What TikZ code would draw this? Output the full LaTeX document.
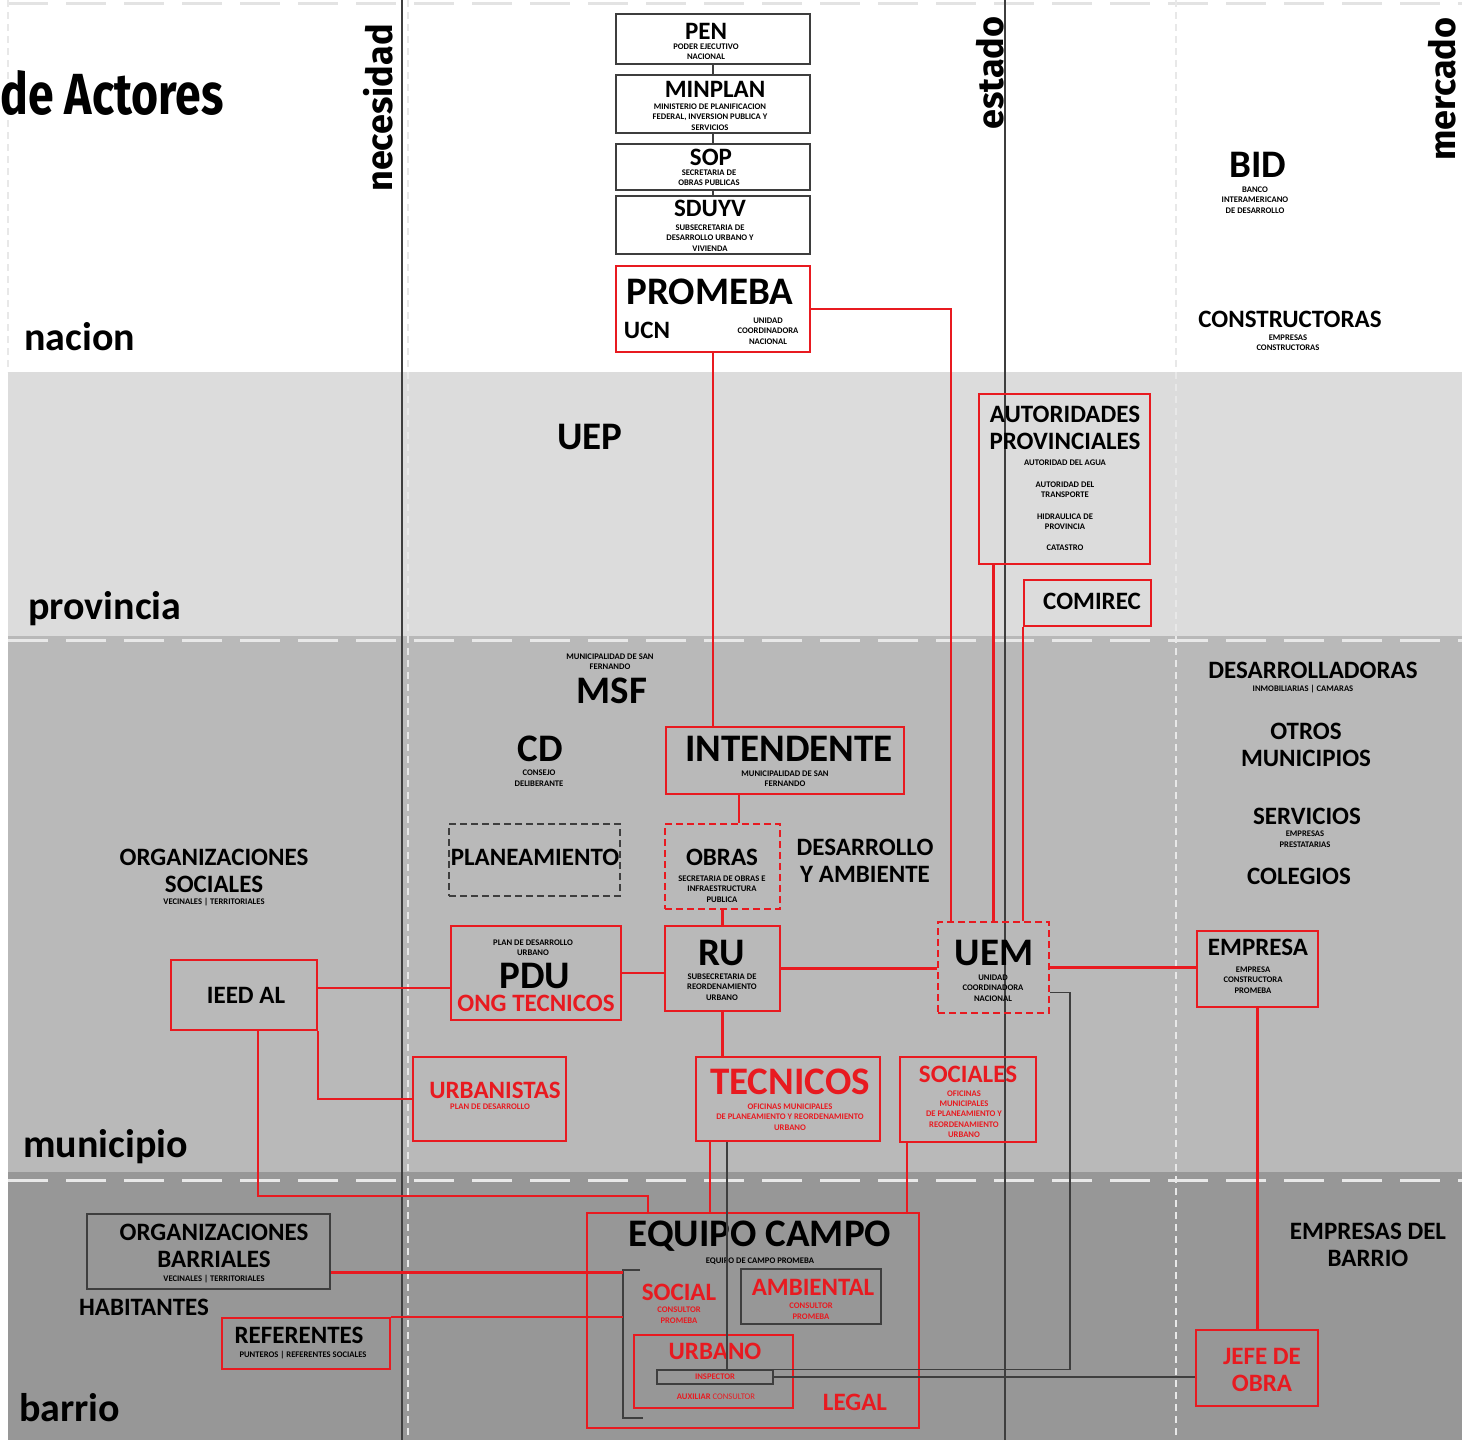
\documentclass[tikz,border=0pt]{standalone}
\usepackage{graphicx}
\usepackage{fontspec}
\setmainfont{Carlito}
\newfontfamily\axisfont{Fira Sans}
\usetikzlibrary{calc}

\definecolor{promred}{RGB}{232,26,32}
\definecolor{linegray}{RGB}{62,62,62}
\definecolor{provgray}{RGB}{220,220,220}
\definecolor{munigray}{RGB}{185,185,185}
\definecolor{barrgray}{RGB}{151,151,151}
\definecolor{dashgray}{RGB}{232,232,232}

\tikzset{
  redbox/.style={draw=promred, line width=2.5pt, inner sep=0pt},
  graybox/.style={draw=linegray, line width=1.8pt, inner sep=0pt},
  redline/.style={draw=promred, line width=2.2pt},
  grayline/.style={draw=linegray, line width=1.6pt},
  bigtxt/.style={font=\fontsize{39}{41}\selectfont\bfseries, inner sep=0pt},
  midtxt/.style={font=\fontsize{25}{27}\selectfont\bfseries, inner sep=0pt, align=center},
  tinytxt/.style={font=\fontsize{8.6}{10.4}\selectfont\bfseries, inner sep=0pt, align=center},
  bandlbl/.style={font=\fontsize{40}{40}\selectfont\bfseries, anchor=base west, inner sep=0pt},
  axislbl/.style={font=\axisfont\bfseries\fontsize{36}{36}\selectfont, rotate=90, inner sep=0pt},
}

\begin{document}
\begin{tikzpicture}[x=1pt,y=-1pt]
    \useasboundingbox (0,0) rectangle (1462,1440);

    % Bands
    \fill[white] (0,0) rectangle (1462,1440);
    \fill[provgray] (8,372) rectangle (1462,636);
    \fill[munigray] (8,636) rectangle (1462,1172);
    \fill[barrgray] (8,1172) rectangle (1462,1440);
    \draw[gray!22, line width=3pt, dash pattern=on 40pt off 18pt] (8,3) -- (1462,3);
    \draw[dashgray, line width=3pt, dash pattern=on 40pt off 18pt] (8,640) -- (1462,640);
    \draw[dashgray, line width=3pt, dash pattern=on 40pt off 18pt] (8,1180) -- (1462,1180);
    \draw[gray!18, line width=1.2pt, dash pattern=on 7pt off 5pt] (8,0) -- (8,372);
    \draw[gray!18, line width=1.5pt, dash pattern=on 7pt off 5pt] (408,0) -- (408,1440);
    \draw[gray!18, line width=1.5pt, dash pattern=on 7pt off 5pt] (1176,0) -- (1176,1440);
    \draw[linegray, line width=2.2pt] (402,0) -- (402,1440);
    \draw[linegray, line width=2.2pt] (1005,0) -- (1005,1440);

    % Band and axis labels
    \node[anchor=base west, inner sep=0pt, font=\axisfont\bfseries\fontsize{58}{58}\selectfont] (title) at (0,114) {\scalebox{0.8}[1]{de Actores}};
    \node[axislbl] (necl) at (378,108) {necesidad};
    \node[axislbl] (estl) at (990,73) {estado};
    \node[axislbl] (merl) at (1442,89) {mercado};
    \node[bandlbl] (nacl) at (24,350) {nacion};
    \node[bandlbl] (provl) at (28,619) {provincia};
    \node[bandlbl] (munl) at (23,1157) {municipio};
    \node[bandlbl] (barl) at (19,1421) {barrio};

    % Boxes
    \node[graybox, minimum width=194, minimum height=50] (pen) at (713,39) {};
    \node[graybox, minimum width=194, minimum height=58] (minplan) at (713,104) {};
    \node[graybox, minimum width=194, minimum height=46] (sop) at (713,167) {};
    \node[graybox, minimum width=194, minimum height=58] (sduyv) at (713,225) {};
    \node[redbox, minimum width=194, minimum height=86] (promeba) at (713,309) {};
    \node[redbox, minimum width=171, minimum height=170] (autprov) at (1064.5,479) {};
    \node[redbox, minimum width=127, minimum height=46] (comirec) at (1087.5,603) {};
    \node[redbox, minimum width=238, minimum height=67] (intend) at (785,760.5) {};
    \node[graybox, dash pattern=on 7pt off 4pt, line width=1.4pt, minimum width=171, minimum height=72] (planea) at (534.5,860) {};
    \node[redbox, dash pattern=on 7pt off 4pt, minimum width=115, minimum height=85] (obras) at (722.5,866.5) {};
    \node[redbox, minimum width=170, minimum height=94] (pdu) at (536,973) {};
    \node[redbox, minimum width=115, minimum height=85] (ru) at (722.5,968.5) {};
    \node[redbox, dash pattern=on 7pt off 4pt, minimum width=111, minimum height=91] (uem) at (993.5,967.5) {};
    \node[redbox, minimum width=121, minimum height=76] (empresa) at (1257.5,969) {};
    \node[redbox, minimum width=146, minimum height=70] (ieed) at (244,995) {};
    \node[redbox, minimum width=153, minimum height=84] (urban) at (489.5,1099) {};
    \node[redbox, minimum width=184, minimum height=84] (tecn) at (788,1099) {};
    \node[redbox, minimum width=136, minimum height=85] (socs) at (968,1099.5) {};
    \node[redbox, minimum width=332, minimum height=215] (equipo) at (753,1320.5) {};
    \node[graybox, minimum width=243, minimum height=75] (orgbar) at (208.5,1251.5) {};
    \node[redbox, minimum width=168, minimum height=51] (refer) at (306,1343.5) {};
    \node[graybox, minimum width=140, minimum height=55] (ambient) at (811,1296.5) {};
    \node[redbox, minimum width=159, minimum height=73] (urbano) at (713.5,1371.5) {};
    \node[graybox, line width=1.4pt, minimum width=116, minimum height=14] (insp) at (715,1377) {};
    \node[redbox, minimum width=122, minimum height=76] (jefe) at (1257,1368) {};

    % Nacion texts
    \node[midtxt] (pent) at (706,31) {PEN};
    \node[tinytxt] (pens) at (706,52) {PODER EJECUTIVO\\NACIONAL};
    \node[midtxt] (minplant) at (715,89) {MINPLAN};
    \node[tinytxt] (minplans) at (710,117) {MINISTERIO DE PLANIFICACION\\FEDERAL, INVERSION PUBLICA Y\\SERVICIOS};
    \node[midtxt] (sopt) at (711,157) {SOP};
    \node[tinytxt] (sops) at (709,178) {SECRETARIA DE\\OBRAS PUBLICAS};
    \node[midtxt] (sduyvt) at (710,208) {SDUYV};
    \node[tinytxt] (sduyvs) at (710,238) {SUBSECRETARIA DE\\DESARROLLO URBANO Y\\VIVIENDA};
    \node[bigtxt] (promebat) at (710,292) {PROMEBA};
    \node[midtxt] (ucnt) at (647,330) {UCN};
    \node[tinytxt] (ucns) at (768,331) {UNIDAD\\COORDINADORA\\NACIONAL};
    \node[bigtxt] (bidt) at (1258,165) {BID};
    \node[tinytxt] (bids) at (1255,200) {BANCO\\INTERAMERICANO\\DE DESARROLLO};
    \node[midtxt] (constt) at (1290,319) {CONSTRUCTORAS};
    \node[tinytxt] (consts) at (1288,343) {EMPRESAS\\CONSTRUCTORAS};

    % Provincia texts
    \node[bigtxt] (uept) at (590,437) {UEP};
    \node[midtxt] (autprovt) at (1065,428) {AUTORIDADES\\PROVINCIALES};
    \node[tinytxt] (aut1) at (1065,463) {AUTORIDAD DEL AGUA};
    \node[tinytxt] (aut2) at (1065,490) {AUTORIDAD DEL\\TRANSPORTE};
    \node[tinytxt] (aut3) at (1065,522) {HIDRAULICA DE\\PROVINCIA};
    \node[tinytxt] (aut4) at (1065,548) {CATASTRO};
    \node[midtxt] (comirect) at (1092,601) {COMIREC};

    % Municipio texts
    \node[tinytxt] (msfs) at (610,662) {MUNICIPALIDAD DE SAN\\FERNANDO};
    \node[bigtxt] (msft) at (612,691) {MSF};
    \node[bigtxt] (cdt) at (540,749) {CD};
    \node[tinytxt] (cds) at (539,778) {CONSEJO\\DELIBERANTE};
    \node[bigtxt] (intendt) at (789,749) {INTENDENTE};
    \node[tinytxt] (intends) at (785,779) {MUNICIPALIDAD DE SAN\\FERNANDO};
    \node[midtxt] (planeat) at (535,857) {PLANEAMIENTO};
    \node[midtxt] (obrast) at (722,857) {OBRAS};
    \node[tinytxt] (obrass) at (722,889) {SECRETARIA DE OBRAS E\\INFRAESTRUCTURA\\PUBLICA};
    \node[midtxt] (desamb) at (865,861) {DESARROLLO\\Y AMBIENTE};
    \node[midtxt] (orgsoct) at (214,871) {ORGANIZACIONES\\SOCIALES};
    \node[tinytxt] (orgsocs) at (214,902) {VECINALES | TERRITORIALES};
    \node[tinytxt] (pdus) at (533,948) {PLAN DE DESARROLLO\\URBANO};
    \node[bigtxt] (pdut) at (535,976) {PDU};
    \node[midtxt, text=promred] (ongt) at (536,1003) {ONG TECNICOS};
    \node[bigtxt] (rut) at (722,953) {RU};
    \node[tinytxt] (rus) at (722,987) {SUBSECRETARIA DE\\REORDENAMIENTO\\URBANO};
    \node[bigtxt] (uemt) at (994,953) {UEM};
    \node[tinytxt] (uems) at (993,988) {UNIDAD\\COORDINADORA\\NACIONAL};
    \node[midtxt] (empresat) at (1258,947) {EMPRESA};
    \node[tinytxt] (empresas) at (1253,980) {EMPRESA\\CONSTRUCTORA\\PROMEBA};
    \node[midtxt] (ieedt) at (246,995) {IEED AL};
    \node[midtxt, text=promred] (urbant) at (495,1090) {URBANISTAS};
    \node[tinytxt, text=promred] (urbans) at (490,1107) {PLAN DE DESARROLLO};
    \node[bigtxt, text=promred] (tecnt) at (790,1082) {TECNICOS};
    \node[tinytxt, text=promred] (tecns) at (790,1117) {OFICINAS MUNICIPALES\\DE PLANEAMIENTO Y REORDENAMIENTO\\URBANO};
    \node[midtxt, text=promred] (socst) at (968,1074) {SOCIALES};
    \node[tinytxt, text=promred] (socss) at (964,1114) {OFICINAS\\MUNICIPALES\\DE PLANEAMIENTO Y\\REORDENAMIENTO\\URBANO};
    \node[midtxt] (desarrt) at (1313,670) {DESARROLLADORAS};
    \node[tinytxt] (desarrs) at (1303,689) {INMOBILIARIAS | CAMARAS};
    \node[midtxt] (otrost) at (1306,745) {OTROS\\MUNICIPIOS};
    \node[midtxt] (servt) at (1307,816) {SERVICIOS};
    \node[tinytxt] (servs) at (1305,839) {EMPRESAS\\PRESTATARIAS};
    \node[midtxt] (colegt) at (1299,876) {COLEGIOS};

    % Barrio texts
    \node[bigtxt] (equipot) at (760,1236) {EQUIPO CAMPO};
    \node[tinytxt] (equipos) at (760,1261) {EQUIPO DE CAMPO PROMEBA};
    \node[midtxt, text=promred] (socialt) at (679,1292) {SOCIAL};
    \node[tinytxt, text=promred] (socials) at (679,1315) {CONSULTOR\\PROMEBA};
    \node[midtxt, text=promred] (ambientt) at (813,1287) {AMBIENTAL};
    \node[tinytxt, text=promred] (ambients) at (811,1311) {CONSULTOR\\PROMEBA};
    \node[midtxt, text=promred] (urbanot) at (715,1351) {URBANO};
    \node[tinytxt, text=promred] (inspt) at (715,1377) {INSPECTOR};
    \node[tinytxt, text=promred] (auxt) at (716,1397) {AUXILIAR \mdseries CONSULTOR};
    \node[midtxt, text=promred] (legalt) at (855,1402) {LEGAL};
    \node[midtxt] (orgbart) at (214,1246) {ORGANIZACIONES\\BARRIALES};
    \node[tinytxt] (orgbars) at (214,1279) {VECINALES | TERRITORIALES};
    \node[midtxt] (habt) at (144,1307) {HABITANTES};
    \node[midtxt] (refert) at (299,1335) {REFERENTES};
    \node[tinytxt] (refers) at (303,1355) {PUNTEROS | REFERENTES SOCIALES};
    \node[midtxt, text=promred] (jefet) at (1262,1370) {JEFE DE\\OBRA};
    \node[midtxt] (empbart) at (1368,1245) {EMPRESAS DEL\\BARRIO};

    % Nacion chain
    \draw[grayline] (pen.south) -- (minplan.north);
    \draw[grayline] (minplan.south) -- (sop.north);
    \draw[grayline] (sop.south) -- (sduyv.north);

    % Promeba links
    \draw[redline] (promeba.south) -- (promeba.south |- intend.north);
    \coordinate (uemA) at ($(uem.north west)+(14,0)$);
    \draw[redline] (promeba.east) -| (uemA);
    \draw[redline] (uem.north |- autprov.south) -- (uem.north);
    \draw[redline] (comirec.south west) -- (comirec.south west |- uem.north);

    % Municipio links
    \coordinate (obA) at ($(obras.north)+(16.5,0)$);
    \draw[redline] (obA) -- (obA |- intend.south);
    \draw[redline] (obras.south) -- (ru.north);
    \draw[redline] (pdu.east) -- (pdu.east -| ru.west);
    \draw[redline] (ru.east) -- (ru.east -| uem.west);
    \draw[redline] (uem.east) -- (uem.east -| empresa.west);
    \draw[redline] (empresa.south) -- (empresa.south |- jefe.north);
    \coordinate (ieB) at ($(ieed.east)+(0,-7)$);
    \draw[redline] (ieB) -- (ieB -| pdu.west);
    \draw[redline] (ieed.south east) |- (urban.west);
    \draw[redline] (ru.south) -- (ru.south |- tecn.north);

    % Links down to equipo campo
    \coordinate (ieA) at ($(ieed.south)+(14,0)$);
    \coordinate (eqin) at (648,1196);
    \draw[redline] (ieA) |- (eqin) -- (eqin |- equipo.north);
    \coordinate (tcA) at ($(tecn.south)+(-78,0)$);
    \draw[redline] (tcA) -- (tcA |- equipo.north);
    \coordinate (soA) at ($(socs.south west)+(8,0)$);
    \draw[redline] (soA) -- (soA |- equipo.north);

    % Inspector links
    \coordinate (tcB) at ($(tecn.south)+(-61,0)$);
    \draw[grayline] (tcB) -- (tcB |- insp.north);
    \coordinate (ueB) at ($(uem.east)+(0,25)$);
    \draw[grayline] (ueB) -- ++(20,0) |- (insp.north east);
    \draw[grayline] (insp.east) -- (insp.east -| jefe.west);

    % Barrio bracket
    \coordinate (brk) at (623,1270);
    \draw[grayline] ($(brk)+(17,0)$) -- (brk) -- (623,1418) -- (643,1418);
    \coordinate (obB) at ($(orgbar.east)+(0,21)$);
    \draw[redline] (obB) -- (obB -| brk);
    \draw[redline] (refer.north east) -- (refer.north east -| brk);
\end{tikzpicture}
\end{document}
